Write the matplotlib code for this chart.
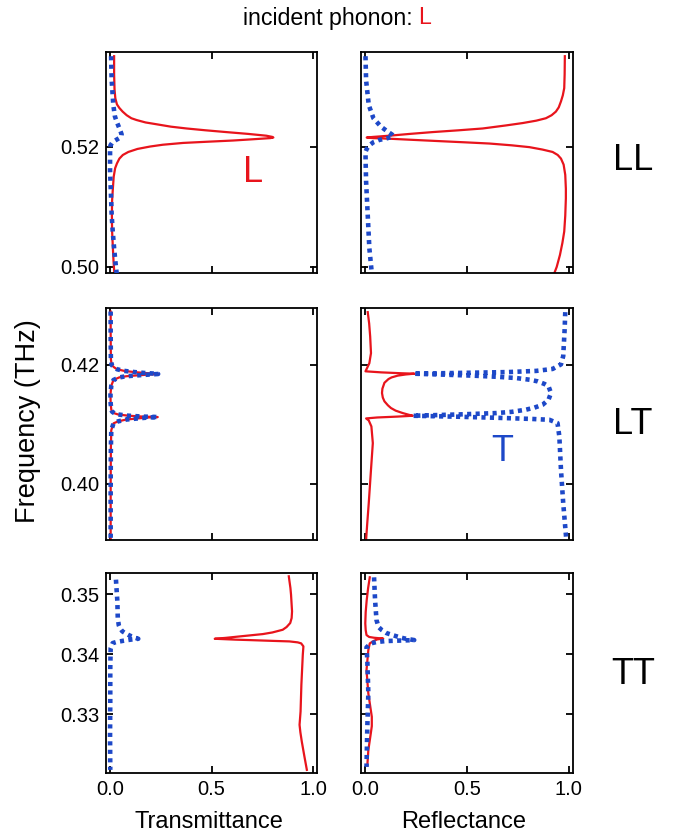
import matplotlib
matplotlib.use('Agg')
import matplotlib.pyplot as plt

plt.rcParams['font.family'] = ['Liberation Sans', 'DejaVu Sans']

RED = '#e8141c'
BLUE = '#1d48c8'

# ---------------- data (frequency in THz) ----------------
# Row LL, transmittance
ll_tr_L_freq = [0.5350, 0.5320, 0.5295, 0.5280, 0.5270, 0.5264, 0.5258, 0.5252, 0.5247, 0.5244,
                0.5240, 0.5237, 0.5233, 0.5230, 0.5227, 0.5224, 0.5221, 0.5218, 0.5216, 0.5215,
                0.5214, 0.5212, 0.5210, 0.5208, 0.5206, 0.5203, 0.5200, 0.5196, 0.5191, 0.5186,
                0.5180, 0.5172, 0.5164, 0.5150, 0.5131, 0.5110, 0.5086, 0.5060, 0.5031, 0.5010, 0.4990]
ll_tr_L = [0.020, 0.020, 0.022, 0.026, 0.034, 0.046, 0.062, 0.082, 0.105, 0.131,
           0.175, 0.229, 0.300, 0.377, 0.470, 0.573, 0.680, 0.770, 0.800, 0.805,
           0.790, 0.700, 0.606, 0.480, 0.360, 0.260, 0.197, 0.135, 0.090, 0.063,
           0.046, 0.034, 0.025, 0.018, 0.014, 0.010, 0.009, 0.010, 0.014, 0.017, 0.021]
ll_tr_T_freq = [0.5350, 0.5310, 0.5269, 0.5250, 0.5241, 0.5232, 0.5225, 0.5220, 0.5217, 0.5214,
                0.5210, 0.5206, 0.5202, 0.5195, 0.5180, 0.5160, 0.5142, 0.5115, 0.5086, 0.5060,
                0.5031, 0.5010, 0.4988]
ll_tr_T = [0.005, 0.008, 0.016, 0.024, 0.033, 0.044, 0.052, 0.057, 0.056, 0.045,
           0.025, 0.010, 0.002, 0.000, 0.000, 0.000, 0.002, 0.005, 0.008, 0.013,
           0.020, 0.026, 0.033]
# Row LL, reflectance
ll_re_L_freq = [0.5350, 0.5320, 0.5297, 0.5285, 0.5275, 0.5265, 0.5258, 0.5252, 0.5247, 0.5243,
                0.5239, 0.5235, 0.5230, 0.5227, 0.5224, 0.5221, 0.5218, 0.5216, 0.5215, 0.5214,
                0.5213, 0.5211, 0.5209, 0.5207, 0.5205, 0.5202, 0.5199, 0.5195, 0.5191, 0.5186,
                0.5180, 0.5170, 0.5153, 0.5130, 0.5114, 0.5085, 0.5059, 0.5040, 0.5020, 0.5000, 0.4985]
ll_re_L = [0.980, 0.979, 0.977, 0.970, 0.961, 0.950, 0.936, 0.915, 0.887, 0.840,
           0.773, 0.690, 0.577, 0.460, 0.331, 0.220, 0.119, 0.040, 0.008, 0.040,
           0.119, 0.240, 0.364, 0.490, 0.610, 0.720, 0.806, 0.870, 0.920, 0.945,
           0.961, 0.974, 0.982, 0.985, 0.985, 0.982, 0.977, 0.968, 0.956, 0.940, 0.923]
ll_re_T_freq = [0.5350, 0.5310, 0.5269, 0.5247, 0.5233, 0.5225, 0.5220, 0.5217, 0.5214, 0.5211,
                0.5207, 0.5202, 0.5196, 0.5191, 0.5170, 0.5142, 0.5086, 0.5031, 0.4986]
ll_re_T = [0.002, 0.005, 0.018, 0.041, 0.078, 0.110, 0.132, 0.139, 0.110, 0.070,
           0.040, 0.021, 0.008, 0.002, 0.003, 0.005, 0.013, 0.021, 0.034]

# Row LT, transmittance (L and T curves coincide)
lt_tr_freq = [0.4290, 0.4250, 0.4210, 0.4200, 0.41960, 0.41927, 0.41900, 0.41880, 0.41865, 0.41855,
              0.41848, 0.41840, 0.41826, 0.41810, 0.41790, 0.41747, 0.4165, 0.4150, 0.4135, 0.41250,
              0.41212, 0.41185, 0.41165, 0.41145, 0.41130, 0.41122, 0.41115, 0.41100, 0.41080, 0.41050,
              0.41016, 0.4090, 0.4060, 0.4000, 0.3950, 0.3905]
lt_tr_L = [0.003, 0.003, 0.004, 0.008, 0.020, 0.035, 0.070, 0.120, 0.170, 0.215,
           0.237, 0.200, 0.140, 0.080, 0.045, 0.017, 0.006, 0.002, 0.003, 0.006,
           0.010, 0.022, 0.040, 0.090, 0.160, 0.235, 0.190, 0.140, 0.080, 0.040,
           0.017, 0.006, 0.004, 0.003, 0.003, 0.003]
lt_tr_T = [0.003, 0.003, 0.004, 0.008, 0.020, 0.035, 0.070, 0.120, 0.170, 0.215,
           0.237, 0.200, 0.140, 0.080, 0.045, 0.017, 0.006, 0.002, 0.003, 0.006,
           0.010, 0.022, 0.040, 0.090, 0.160, 0.235, 0.190, 0.140, 0.080, 0.040,
           0.017, 0.006, 0.004, 0.003, 0.003, 0.003]
# Row LT, reflectance
lt_re_L_freq = [0.4289, 0.4270, 0.4248, 0.4220, 0.4203, 0.4195, 0.41893, 0.41875, 0.41860, 0.41853,
                0.41840, 0.41820, 0.41790, 0.41763, 0.41700, 0.41600, 0.41527, 0.41450, 0.41387, 0.41320,
                0.41274, 0.41230, 0.41189, 0.41160, 0.41144, 0.41130, 0.41115, 0.41099, 0.41065, 0.40964,
                0.40683, 0.40233, 0.39670, 0.39300, 0.39051]
lt_re_L = [0.013, 0.020, 0.025, 0.029, 0.021, 0.010, 0.002, 0.080, 0.180, 0.242,
           0.200, 0.160, 0.130, 0.115, 0.095, 0.085, 0.083, 0.087, 0.095, 0.112,
           0.127, 0.150, 0.185, 0.215, 0.234, 0.160, 0.060, 0.005, 0.018, 0.031,
           0.038, 0.029, 0.018, 0.010, 0.005]
lt_re_T_freq = [0.4289, 0.4260, 0.4215, 0.4201, 0.41933, 0.41900, 0.41880, 0.41865, 0.41853, 0.41835,
                0.41820, 0.41800, 0.41780, 0.41750, 0.41724, 0.41680, 0.41640, 0.41527, 0.41415, 0.41330,
                0.41280, 0.41246, 0.41210, 0.41189, 0.41165, 0.41144, 0.41128, 0.41110, 0.41090, 0.41076,
                0.41020, 0.40795, 0.40233, 0.39670, 0.39023]
lt_re_T = [0.982, 0.979, 0.972, 0.961, 0.920, 0.840, 0.700, 0.450, 0.237, 0.400,
           0.528, 0.650, 0.740, 0.810, 0.846, 0.880, 0.900, 0.912, 0.900, 0.871,
           0.830, 0.789, 0.720, 0.642, 0.450, 0.234, 0.450, 0.642, 0.820, 0.904,
           0.944, 0.953, 0.961, 0.972, 0.988]

# Row TT, transmittance
tt_tr_L_freq = [0.35295, 0.35100, 0.34989, 0.34711, 0.34600, 0.34517, 0.34450, 0.34405, 0.34360, 0.34333,
                0.34294, 0.34270, 0.34255, 0.34240, 0.34233, 0.34220, 0.34211, 0.34195, 0.34178, 0.34128,
                0.33989, 0.33489, 0.33044, 0.32822, 0.32700, 0.32544, 0.32294, 0.32072]
tt_tr_L = [0.881, 0.889, 0.892, 0.897, 0.895, 0.888, 0.870, 0.851, 0.800, 0.753,
           0.639, 0.570, 0.516, 0.620, 0.688, 0.800, 0.884, 0.925, 0.942, 0.953,
           0.950, 0.943, 0.939, 0.934, 0.938, 0.945, 0.958, 0.970]
tt_tr_T_freq = [0.35239, 0.34878, 0.34600, 0.34480, 0.34433, 0.34380, 0.34350, 0.34320, 0.34294, 0.34270,
                0.34255, 0.34240, 0.34222, 0.34200, 0.34183, 0.34100, 0.33767, 0.33211, 0.32656, 0.32072]
tt_tr_T = [0.029, 0.036, 0.038, 0.043, 0.049, 0.060, 0.074, 0.090, 0.106, 0.125,
           0.139, 0.100, 0.066, 0.030, 0.013, 0.003, 0.001, 0.001, 0.000, 0.001]
# Row TT, reflectance
tt_re_L_freq = [0.35278, 0.35100, 0.34900, 0.34700, 0.34511, 0.34400, 0.34317, 0.34285, 0.34272, 0.34258,
                0.34245, 0.34222, 0.34178, 0.34067, 0.33733, 0.33344, 0.32956, 0.32800, 0.32678, 0.32400,
                0.32144]
tt_re_L = [0.023, 0.015, 0.008, 0.003, 0.001, 0.003, 0.007, 0.020, 0.044, 0.089,
           0.060, 0.044, 0.023, 0.016, 0.007, 0.016, 0.033, 0.033, 0.028, 0.016,
           0.011]
tt_re_T_freq = [0.35278, 0.34900, 0.34567, 0.34450, 0.34400, 0.34350, 0.34317, 0.34280, 0.34261, 0.34233,
                0.34225, 0.34217, 0.34200, 0.34178, 0.34111, 0.33900, 0.33344, 0.32789, 0.32122]
tt_re_T = [0.044, 0.049, 0.056, 0.066, 0.082, 0.105, 0.134, 0.170, 0.192, 0.241,
           0.170, 0.102, 0.055, 0.028, 0.007, 0.011, 0.016, 0.011, 0.007]

row_names = ['LL', 'LT', 'TT']
y_limits = [(0.4990, 0.5357), (0.3905, 0.4296), (0.3202, 0.3535)]
y_ticks = [[0.50, 0.52], [0.40, 0.42], [0.33, 0.34, 0.35]]
x_ticks = [0.0, 0.5, 1.0]
x_tick_labels = ['0.0', '0.5', '1.0']
col_titles = ['Transmittance', 'Reflectance']

curves = [
    [((ll_tr_L_freq, ll_tr_L), (ll_tr_T_freq, ll_tr_T)), ((ll_re_L_freq, ll_re_L), (ll_re_T_freq, ll_re_T))],
    [((lt_tr_freq, lt_tr_L), (lt_tr_freq, lt_tr_T)), ((lt_re_L_freq, lt_re_L), (lt_re_T_freq, lt_re_T))],
    [((tt_tr_L_freq, tt_tr_L), (tt_tr_T_freq, tt_tr_T)), ((tt_re_L_freq, tt_re_L), (tt_re_T_freq, tt_re_T))],
]

# ---------------- layout ----------------
W, H = 673, 833
fig = plt.figure(figsize=(W / 100, H / 100), dpi=100)

rows_px = [(52, 273), (308, 540), (573, 773)]
cols_px = [(106, 317), (361, 573)]

axes = {}
for r, (yt, yb) in enumerate(rows_px):
    for c, (xl, xr) in enumerate(cols_px):
        ax = fig.add_axes([xl / W, 1 - yb / H, (xr - xl) / W, (yb - yt) / H])
        axes[(r, c)] = ax
        (fL, vL), (fT, vT) = curves[r][c]
        ax.plot(vL, fL, color=RED, lw=1.6, solid_joinstyle='round', zorder=2)
        ax.plot(vT, fT, color=BLUE, lw=3.3, linestyle=(0, (0.9, 0.95)),
                dash_capstyle='butt', zorder=3)
        ax.set_xlim(-0.02, 1.02)
        ax.set_ylim(*y_limits[r])
        ax.set_xticks(x_ticks)
        ax.set_yticks(y_ticks[r])
        ax.tick_params(direction='in', top=True, right=True, length=5, width=1.3,
                       labelsize=14.5, pad=5)
        for s in ax.spines.values():
            s.set_linewidth(1.3)
        if c == 0:
            ax.set_yticklabels(['%.2f' % v for v in y_ticks[r]])
        else:
            ax.set_yticklabels([])
        if r == 2:
            ax.set_xticklabels(x_tick_labels)
        else:
            ax.set_xticklabels([])

# annotations
axes[(0, 0)].text(0.703, 0.5157, 'L', color=RED, fontsize=26, ha='center', va='center')
axes[(1, 1)].text(0.672, 0.4054, 'T', color=BLUE, fontsize=26, ha='center', va='center')

# row labels
for name, yc in zip(row_names, [160, 425, 675]):
    fig.text(633 / W, 1 - yc / H, name, fontsize=26, ha='center', va='center')

# column labels
fig.text(209 / W, 1 - 822 / H, col_titles[0], fontsize=17, ha='center', va='center')
fig.text(464 / W, 1 - 822 / H, col_titles[1], fontsize=17, ha='center', va='center')

# y label
fig.text(28 / W, 1 - 421 / H, 'Frequency (THz)', fontsize=19.5, rotation=90,
         ha='center', va='center')

# title: "incident phonon: L" with red L
ty = 1 - 18 / H
t1 = fig.text(0, ty, 'incident phonon: ', fontsize=16.7, ha='left', va='center')
t2 = fig.text(0, ty, 'L', fontsize=16.7, color=RED, ha='left', va='center')
renderer = fig.canvas.get_renderer()
w1 = t1.get_window_extent(renderer).width
w2 = t2.get_window_extent(renderer).width
x0 = 337 - (w1 + w2) / 2
t1.set_x(x0 / W)
t2.set_x((x0 + w1) / W)

fig.savefig('out.png', dpi=100)
